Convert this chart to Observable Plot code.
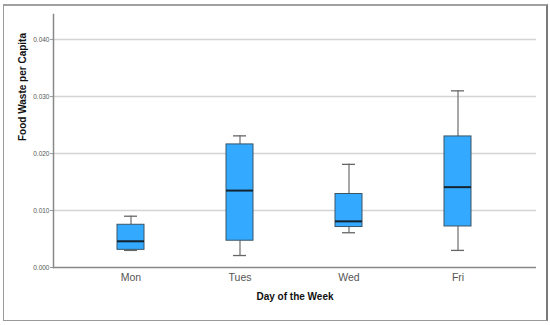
<!DOCTYPE html>
<html><head><meta charset="utf-8">
<script src="https://cdn.jsdelivr.net/npm/d3@7"></script>
<script src="https://cdn.jsdelivr.net/npm/@observablehq/plot@0.6"></script>
<style>
body{margin:0;background:#fff;}
#wrap{position:relative;width:550px;height:325px;}
#border{position:absolute;left:3px;top:4px;width:542px;height:314px;border:1px solid #9a9a9a;border-right:2px solid #7a7a7a;border-top:2px solid #a0a0a0;pointer-events:none;}
</style></head>
<body><div id="wrap"><div id="border"></div></div>
<script>
const days = ["Mon", "Tues", "Wed", "Fri"];
const whiskerLow = [0.0030, 0.0021, 0.0061, 0.0030];
const q1 = [0.0031, 0.0047, 0.0071, 0.0072];
const median = [0.0046, 0.0135, 0.0081, 0.0141];
const q3 = [0.0075, 0.0216, 0.0129, 0.0230];
const whiskerHigh = [0.0090, 0.0231, 0.0181, 0.0310];
const yTicks = [0, 0.01, 0.02, 0.03, 0.04];

const rows = days.map((d, i) => ({day: d, lo: whiskerLow[i], q1: q1[i], med: median[i], q3: q3[i], hi: whiskerHigh[i]}));

const plot = Plot.plot({
  width: 550, height: 325,
  marginLeft: 53, marginRight: 14, marginTop: 14, marginBottom: 58,
  style: {fontFamily: "'Liberation Sans', Arial, sans-serif", background: "transparent"},
  x: {type: "band", domain: days, paddingInner: 0.75, paddingOuter: 0.59, label: null},
  y: {domain: [0, 0.0444], label: null},
  marks: [
    Plot.ruleY(yTicks.filter(t => t > 0), {stroke: "#d4d4d4", strokeWidth: 1.5}),
    Plot.axisY({ticks: yTicks, tickFormat: ".3f", fontSize: 6.5, tickSize: 3, tickPadding: 1, stroke: "#999", color: "#555", label: null}),
    Plot.axisX({tickSize: 0, tickPadding: 6, fontSize: 10.5, color: "#555", label: null}),
    Plot.ruleX(rows, {x: "day", y1: "lo", y2: "q1", stroke: "#777", strokeWidth: 1.3}),
    Plot.ruleX(rows, {x: "day", y1: "q3", y2: "hi", stroke: "#777", strokeWidth: 1.3}),
    Plot.tickY(rows, {x: "day", y: "hi", stroke: "#666", strokeWidth: 1.3, insetLeft: 7, insetRight: 7}),
    Plot.tickY(rows, {x: "day", y: "lo", stroke: "#666", strokeWidth: 1.3, insetLeft: 7, insetRight: 7}),
    Plot.barY(rows, {x: "day", y1: "q1", y2: "q3", fill: "#33aaff", stroke: "#3a5566", strokeWidth: 1}),
    Plot.tickY(rows, {x: "day", y: "med", stroke: "#14232d", strokeWidth: 2}),
    Plot.ruleY([0], {stroke: "#888", strokeWidth: 1.5}),
    Plot.frame({anchor: "left", stroke: "#888", strokeWidth: 1.5}),
    Plot.text(["Day of the Week"], {frameAnchor: "bottom", dy: 32, fontWeight: "bold", fontSize: 10, fill: "#111"}),
    Plot.text(["Food Waste per Capita"], {frameAnchor: "left", dx: -31, rotate: -90, fontWeight: "bold", fontSize: 10, fill: "#111"})
  ]
});
document.getElementById("wrap").appendChild(plot);
</script>
</body></html>
